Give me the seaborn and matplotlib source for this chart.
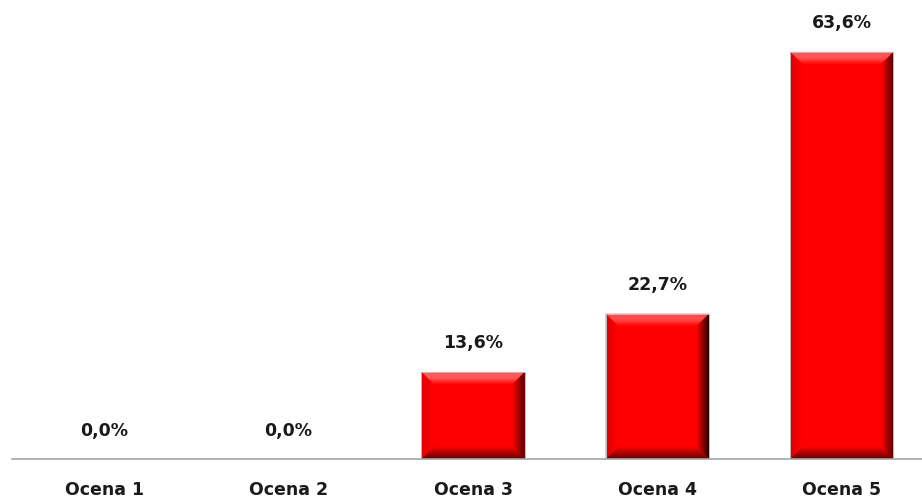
import matplotlib
matplotlib.use("Agg")
import matplotlib.pyplot as plt
import seaborn as sns
import pandas as pd
import numpy as np
from matplotlib.patches import Polygon, Rectangle
from matplotlib.colors import to_rgb

categories = ["Ocena 1", "Ocena 2", "Ocena 3", "Ocena 4", "Ocena 5"]
values = [0.0, 0.0, 13.6, 22.7, 63.6]

df = pd.DataFrame({"ocena": categories, "pct": values})

sns.set_style("white")
plt.rcParams["font.family"] = ["DejaVu Sans"]

W, H = 922, 499
fig = plt.figure(figsize=(W / 100, H / 100), dpi=100)
ax_left, ax_right, ax_bottom = 12, 934, 459
ax = fig.add_axes([ax_left / W, (H - ax_bottom) / H, (ax_right - ax_left) / W, ax_bottom / H])

sns.barplot(data=df, x="ocena", y="pct", color="#ff0000", width=0.56,
            saturation=1, ax=ax, edgecolor="none")
ax.set_xlim(-0.5, len(categories) - 0.5)
ax.set_ylim(0, 71.7)

# bevelled edges on each bar
fig.canvas.draw()
px_per_x = ax.transData.transform((1, 0))[0] - ax.transData.transform((0, 0))[0]
px_per_y = ax.transData.transform((0, 1))[1] - ax.transData.transform((0, 0))[1]
bev = 12
bx, by = bev / px_per_x, bev / px_per_y

def shade(c, f):
    r, g, b = to_rgb(c)
    if f >= 0:
        return (r + (1 - r) * f, g + (1 - g) * f, b + (1 - b) * f)
    return (r * (1 + f), g * (1 + f), b * (1 + f))

steps = 12
bars = [p for p in ax.patches]
for p in bars:
    x0, w, h = p.get_x(), p.get_width(), p.get_height()
    if h <= 0:
        continue
    x1 = x0 + w
    for i in range(steps):
        t0, t1 = i / steps, (i + 1) / steps
        fade = 1 - t0
        hl = 0.38 if t0 < 0.45 else 0.38 * (1 - t0) / 0.55
        # top: light highlight band
        ax.add_patch(Polygon([(x0 + bx * t0, h - by * t0), (x1 - bx * t0, h - by * t0),
                              (x1 - bx * t1, h - by * t1), (x0 + bx * t1, h - by * t1)],
                             closed=True, lw=0, color=shade("#ff0000", hl)))
        # right: dark shadow
        ax.add_patch(Polygon([(x1 - bx * t0, h - by * t0), (x1 - bx * t0, by * t0),
                              (x1 - bx * t1, by * t1), (x1 - bx * t1, h - by * t1)],
                             closed=True, lw=0, color=shade("#ff0000", -0.85 * fade)))
        # bottom: dark red
        ax.add_patch(Polygon([(x0 + bx * t0, by * t0), (x1 - bx * t0, by * t0),
                              (x1 - bx * t1, by * t1), (x0 + bx * t1, by * t1)],
                             closed=True, lw=0, color=shade("#ff0000", -0.6 * fade)))
        # left: slight shade
        ax.add_patch(Polygon([(x0 + bx * t0, h - by * t0), (x0 + bx * t0, by * t0),
                              (x0 + bx * t1, by * t1), (x0 + bx * t1, h - by * t1)],
                             closed=True, lw=0, color=shade("#ff0000", -0.15 * fade)))
    ax.add_patch(Rectangle((x0, 0), w, h, fill=False, lw=0.7, edgecolor="#bdbdbd", zorder=5))

# value labels
for i, v in enumerate(values):
    ax.annotate(f"{v:.1f}%".replace(".", ","), xy=(i, v), xytext=(0, 14),
                textcoords="offset points", ha="center", va="bottom",
                fontsize=12.5, fontweight="bold", color="#1a1a1a")

for s in ["top", "right", "left"]:
    ax.spines[s].set_visible(False)
ax.spines["bottom"].set_color("#a6a6a6")
ax.spines["bottom"].set_linewidth(1.2)
ax.spines["bottom"].set_zorder(6)
ax.set_yticks([])
ax.set_xlabel("")
ax.set_ylabel("")

ax.set_xticks(range(len(categories)))
ax.set_xticklabels(categories, fontsize=12.5, fontweight="bold", color="#1a1a1a")
ax.tick_params(axis="x", which="major", length=0, pad=16)
ax.set_xticks(np.arange(-0.5, len(categories), 1), minor=True)
ax.tick_params(axis="x", which="minor", length=6, width=1.2, color="#a6a6a6", direction="out")

fig.savefig("out.png", dpi=100)
